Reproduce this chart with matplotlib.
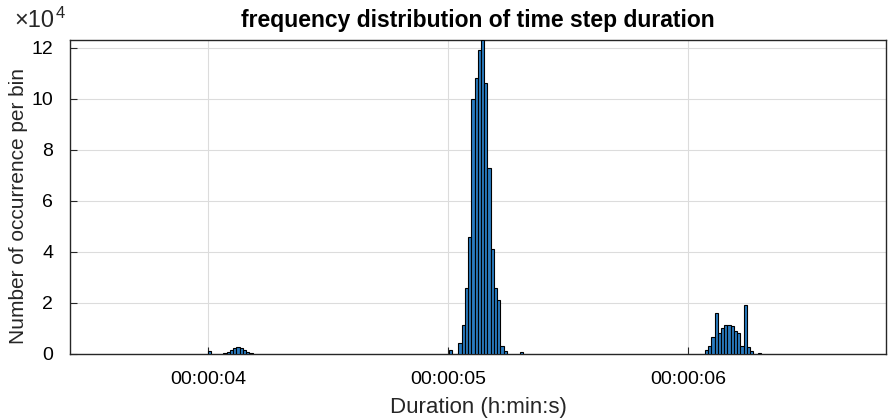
import numpy as np
import matplotlib
matplotlib.use("Agg")
import matplotlib.pyplot as plt

plt.rcParams['font.family'] = ['Liberation Sans', 'DejaVu Sans']

# bin width (seconds)
bin_width = 0.0135

# cluster near 4 s: start time (s) and counts (x1e4)
c4_start = 4.064
c4_counts = [0.03, 0.08, 0.15, 0.22, 0.26, 0.22, 0.15, 0.08, 0.03]
# isolated small bins
single_times = [3.998, 5.004, 5.300, 6.290]
single_counts = [0.12, 0.15, 0.08, 0.05]

# main cluster near 5 s
c5_start = 5.043
c5_counts = [0.42, 1.14, 2.6, 4.6, 10.0, 10.8, 11.9, 12.3, 10.6, 7.3, 4.1, 2.6, 2.1, 0.3, 0.1]

# cluster near 6 s
c6_start = 6.070
c6_counts = [0.16, 0.31, 0.65, 1.62, 0.81, 1.0, 1.14, 1.14, 1.1, 0.91, 0.81, 0.31, 1.92, 0.29, 0.13]

xticks_s = [4, 5, 6]
xtick_labels = ['00:00:04', '00:00:05', '00:00:06']
yticks = [0, 2, 4, 6, 8, 10, 12]

fig = plt.figure(figsize=(8.88, 4.18), dpi=100)
ax = fig.add_axes([70/888, 64/418, 816/888, 314/418])

face = '#2a7bbf'
lefts = []
heights = []
for start, counts in [(c4_start, c4_counts), (c5_start, c5_counts), (c6_start, c6_counts)]:
    for i, c in enumerate(counts):
        lefts.append(start + i * bin_width)
        heights.append(c * 1e4)
for t, c in zip(single_times, single_counts):
    lefts.append(t)
    heights.append(c * 1e4)

ax.bar(lefts, heights, width=bin_width, align='edge', color=face,
       edgecolor='black', linewidth=0.8, zorder=3)

ax.set_xlim(3.425, 6.825)
ax.set_ylim(0, max(heights))
ax.set_xticks(xticks_s)
ax.set_xticklabels(xtick_labels)
ax.set_yticks([v * 1e4 for v in yticks])
ax.set_yticklabels([str(v) for v in yticks])
ax.tick_params(direction='in', labelsize=14, length=5, color='#262626')
ax.tick_params(axis='x', pad=12)
ax.tick_params(axis='y', pad=12)
ax.grid(True, color='#dcdcdc', linewidth=0.8, zorder=0)
ax.set_axisbelow(True)
for s in ax.spines.values():
    s.set_color('#262626')
    s.set_linewidth(1.0)

ax.set_xlabel('Duration (h:min:s)', fontsize=16, color='#262626', labelpad=7)
ax.set_ylabel('Number of occurrence per bin', fontsize=15, color='#262626')
ax.yaxis.set_label_coords(-0.051, 0.47)
ax.set_title('frequency distribution of time step duration', fontsize=16.5,
             fontweight='bold', pad=9)
fig.text(14/888, 1 - 27/418, '×10', fontsize=17, color='#262626',
         ha='left', va='baseline')
fig.text(56/888, 1 - 18/418, '4', fontsize=12, color='#262626',
         ha='left', va='baseline')

fig.savefig('out.png', dpi=100)
